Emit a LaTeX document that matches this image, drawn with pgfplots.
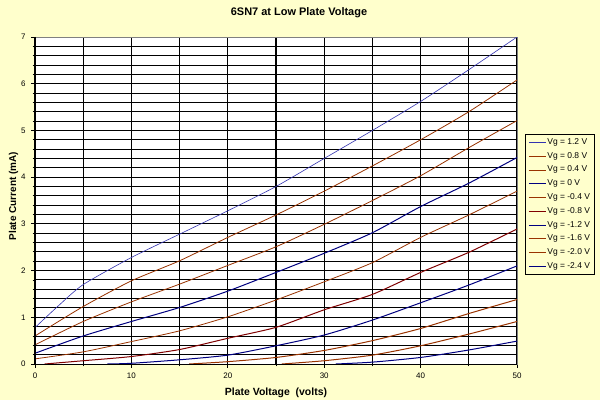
\documentclass[border=0pt]{standalone}
\usepackage{fontspec}
\setmainfont{Liberation Sans}
\usepackage{pgfplots}
\pgfplotsset{compat=1.18}
\definecolor{bgy}{HTML}{FFFFCC}
\definecolor{cone}{HTML}{3333B0}
\definecolor{brn}{HTML}{993300}
\definecolor{drd}{HTML}{800000}
\definecolor{nvy}{HTML}{000080}
\begin{document}
\begin{tikzpicture}
\fill[bgy] (-35bp,-36bp) rectangle (565bp,364bp);
\useasboundingbox (-35bp,-36bp) rectangle (565bp,364bp);
\begin{axis}[
  at={(0bp,0bp)}, anchor=south west,
  scale only axis, width=482bp, height=327bp,
  xmin=0, xmax=50, ymin=0, ymax=7,
  xtick={0,10,...,50}, minor xtick={5,15,...,45},
  ytick={0,1,...,7}, minor y tick num=4,
  xtick pos=bottom, ytick pos=left,
  tick align=outside,
  major tick length=4bp, minor tick length=2.5bp,
  every tick/.style={black, line width=0.8bp},
  grid=both,
  major x grid style={black, line width=1.1bp},
  minor x grid style={black, line width=1.1bp},
  major y grid style={black, line width=0.9bp},
  minor y grid style={black, line width=0.9bp},
  axis line style={draw=gray, line width=0.8bp},
  axis background/.style={fill=white},
  /pgf/number format/assume math mode=true,
  ticklabel style={font=\fontsize{8}{9}\selectfont},
  xticklabel style={yshift=-1bp},
  yticklabel style={xshift=-2bp},
  legend style={at={(1.0166,0.7034)}, anchor=north west,
    draw=black, fill=bgy, line width=0.8bp,
    font=\fontsize{8.5}{9}\selectfont,
    nodes={inner sep=1bp, text height=6bp, text depth=2bp},
    row sep=3.8bp, inner xsep=3bp, inner ysep=3bp},
  legend cell align=left,
  legend image code/.code={\draw[#1] (0bp,0bp) -- (17bp,0bp);},
  every axis plot/.append style={smooth, tension=0.4, line join=round},
]
\addplot[cone, line width=0.6bp] coordinates {(0,0.78) (2.5,1.26) (5,1.70) (10,2.28) (15,2.78) (20,3.28) (25,3.80) (30,4.40) (35,5.00) (40,5.62) (45,6.30) (50,7.00)};
\addlegendentry{Vg = 1.2 V}
\addplot[brn, line width=0.8bp] coordinates {(0,0.60) (5,1.23) (10,1.78) (15,2.21) (20,2.71) (25,3.19) (30,3.70) (35,4.24) (40,4.80) (45,5.40) (50,6.08)};
\addlegendentry{Vg = 0.8 V}
\addplot[brn, line width=0.8bp] coordinates {(0,0.41) (5,0.91) (10,1.33) (15,1.71) (20,2.11) (25,2.51) (30,2.99) (35,3.50) (40,4.03) (45,4.63) (50,5.21)};
\addlegendentry{Vg = 0.4 V}
\addplot[nvy, line width=1bp] coordinates {(0,0.23) (5,0.60) (10,0.91) (15,1.21) (20,1.56) (25,1.96) (30,2.37) (35,2.81) (40,3.37) (45,3.87) (50,4.42)};
\addlegendentry{Vg = 0 V}
\addplot[brn, line width=0.8bp] coordinates {(0,0.11) (5,0.26) (10,0.48) (15,0.71) (20,1.01) (25,1.37) (30,1.76) (35,2.17) (40,2.71) (45,3.19) (50,3.70)};
\addlegendentry{Vg = -0.4 V}
\addplot[drd, line width=1bp] coordinates {(1,0.00) (5,0.07) (10,0.16) (15,0.31) (20,0.55) (25,0.785) (30,1.16) (35,1.49) (40,1.96) (45,2.39) (50,2.89)};
\addlegendentry{Vg = -0.8 V}
\addplot[nvy, line width=1bp] coordinates {(7.5,0.00) (10,0.015) (15,0.09) (20,0.19) (25,0.39) (30,0.62) (35,0.94) (40,1.31) (45,1.69) (50,2.10)};
\addlegendentry{Vg = -1.2 V}
\addplot[brn, line width=1bp] coordinates {(16,0.00) (20,0.05) (25,0.14) (30,0.29) (35,0.50) (40,0.76) (45,1.08) (50,1.38)};
\addlegendentry{Vg = -1.6 V}
\addplot[brn, line width=1bp] coordinates {(25.6,0.00) (30,0.07) (35,0.19) (40,0.39) (45,0.64) (50,0.91)};
\addlegendentry{Vg = -2.0 V}
\addplot[nvy, line width=1bp] coordinates {(31.2,0.00) (35,0.04) (40,0.14) (45,0.30) (50,0.49)};
\addlegendentry{Vg = -2.4 V}
\end{axis}
\draw[black, line width=1bp] (0bp,327bp) -- (0bp,0bp) -- (482bp,0bp);
\node[font=\fontsize{11}{12}\bfseries\selectfont] at (264bp,351bp) {6SN7 at Low Plate Voltage};
\node[font=\fontsize{10.5}{12}\bfseries\selectfont] at (241bp,-29bp) {Plate Voltage\ \ (volts)};
\node[font=\fontsize{10}{12}\bfseries\selectfont, rotate=90] at (-21.5bp,168bp) {Plate Current (mA)};
\end{tikzpicture}
\end{document}
